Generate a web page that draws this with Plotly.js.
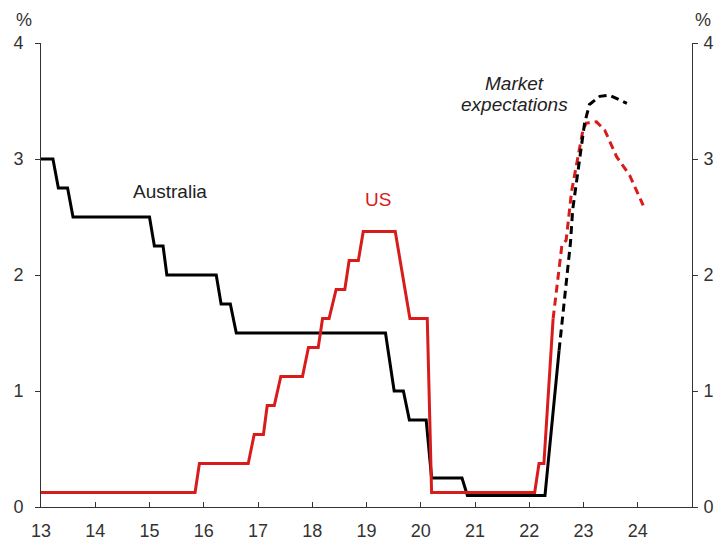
<!DOCTYPE html>
<html>
<head>
<meta charset="utf-8">
<script src="https://cdn.plot.ly/plotly-3.0.1.min.js"></script>
<style>
  html, body { margin: 0; padding: 0; background: #fff; }
  #chart { width: 725px; height: 543px; }
</style>
</head>
<body>
<div id="chart"></div>
<script>
// Policy rates, % (x in years, 13 = 2013)
const ausX = [13.0, 13.22, 13.32, 13.49, 13.59, 15.0, 15.09, 15.25, 15.32, 16.23, 16.32, 16.49, 16.6,
              19.35, 19.51, 19.68, 19.79, 20.1, 20.2, 20.76, 20.86, 22.29, 22.55];
const ausY = [3.0, 3.0, 2.75, 2.75, 2.5, 2.5, 2.25, 2.25, 2.0, 2.0, 1.75, 1.75, 1.5,
              1.5, 1.0, 1.0, 0.75, 0.75, 0.25, 0.25, 0.1, 0.1, 1.35];

const usX = [13.0, 15.84, 15.92, 16.82, 16.93, 17.1, 17.17, 17.3, 17.42, 17.82, 17.93, 18.11, 18.19,
             18.31, 18.44, 18.6, 18.68, 18.85, 18.94, 19.53, 19.8, 20.12, 20.2, 22.1, 22.18, 22.27, 22.44];
const usY = [0.125, 0.125, 0.375, 0.375, 0.625, 0.625, 0.875, 0.875, 1.125, 1.125, 1.375, 1.375, 1.625,
             1.625, 1.875, 1.875, 2.125, 2.125, 2.375, 2.375, 1.625, 1.625, 0.125, 0.125, 0.375, 0.375, 1.625];

// Market expectations
const ausMktX = [22.55, 22.76, 22.80, 22.93, 23.02, 23.11, 23.30, 23.48, 23.80];
const ausMktY = [1.35, 2.28, 2.56, 3.02, 3.31, 3.47, 3.54, 3.55, 3.48];

const usMktX = [22.44, 22.6, 22.68, 22.78, 22.99, 23.05, 23.24, 23.39, 23.61, 23.85, 24.10];
const usMktY = [1.625, 2.25, 2.3, 2.72, 3.25, 3.31, 3.32, 3.25, 3.02, 2.86, 2.60];

const xTickVals = [13, 14, 15, 16, 17, 18, 19, 20, 21, 22, 23, 24, 25];
const xTickText = ['13', '14', '15', '16', '17', '18', '19', '20', '21', '22', '23', '24', ''];
const yTickVals = [0, 1, 2, 3, 4];

const RED = '#D81C1C';
const BLACK = '#000000';
const AXIS = '#333333';
const FONT = 'Arial, "Liberation Sans", sans-serif';

const traces = [
  { x: ausX, y: ausY, mode: 'lines', line: { color: BLACK, width: 3 }, hoverinfo: 'skip' },
  { x: usX, y: usY, mode: 'lines', line: { color: RED, width: 3 }, hoverinfo: 'skip' },
  { x: usMktX, y: usMktY, mode: 'lines', line: { color: RED, width: 3, dash: '8px,5px' }, hoverinfo: 'skip' },
  { x: ausMktX, y: ausMktY, mode: 'lines', line: { color: BLACK, width: 3, dash: '8px,5px' }, hoverinfo: 'skip' },
  // keeps the right-hand axis in place
  { x: [13], y: [0], yaxis: 'y2', mode: 'markers', marker: { opacity: 0 }, hoverinfo: 'skip' }
];

const yCommon = {
  range: [0, 4],
  tickvals: yTickVals,
  ticks: 'outside',
  ticklen: 5,
  tickwidth: 1,
  tickcolor: AXIS,
  showline: true,
  linecolor: AXIS,
  linewidth: 1,
  showgrid: false,
  zeroline: false,
  fixedrange: true,
  tickfont: { family: FONT, size: 18, color: '#333' }
};

const layout = {
  width: 725,
  height: 543,
  margin: { l: 41, r: 33, t: 43, b: 36, pad: 0 },
  showlegend: false,
  paper_bgcolor: '#ffffff',
  plot_bgcolor: '#ffffff',
  font: { family: FONT, size: 18, color: '#333' },
  xaxis: {
    range: [13, 25],
    tickvals: xTickVals,
    ticktext: xTickText,
    ticks: 'inside',
    ticklen: 5,
    tickwidth: 1,
    tickcolor: AXIS,
    showline: true,
    linecolor: AXIS,
    linewidth: 1,
    showgrid: false,
    zeroline: false,
    fixedrange: true,
    ticklabelstandoff: 7,
    tickfont: { family: FONT, size: 18, color: '#333' }
  },
  yaxis: Object.assign({}, yCommon, { side: 'left', ticklabelstandoff: 8 }),
  yaxis2: Object.assign({}, yCommon, { side: 'right', overlaying: 'y', ticklabelstandoff: 2 }),
  annotations: [
    { xref: 'paper', yref: 'paper', x: 0, y: 1, xshift: -17, yshift: 11, xanchor: 'center', yanchor: 'bottom',
      text: '%', showarrow: false, font: { family: FONT, size: 18, color: '#333' } },
    { xref: 'paper', yref: 'paper', x: 1, y: 1, xshift: 11, yshift: 11, xanchor: 'center', yanchor: 'bottom',
      text: '%', showarrow: false, font: { family: FONT, size: 18, color: '#333' } },
    { x: 15.37, y: 2.72, text: 'Australia', showarrow: false, xanchor: 'center', yanchor: 'middle',
      font: { family: FONT, size: 19, color: '#222' } },
    { x: 19.22, y: 2.655, text: 'US', showarrow: false, xanchor: 'center', yanchor: 'middle',
      font: { family: FONT, size: 19, color: RED } },
    { x: 21.73, y: 3.65, text: '<i>Market</i>', showarrow: false, xanchor: 'center', yanchor: 'middle',
      font: { family: FONT, size: 19, color: '#222' } },
    { x: 21.73, y: 3.47, text: '<i>expectations</i>', showarrow: false, xanchor: 'center', yanchor: 'middle',
      font: { family: FONT, size: 19, color: '#222' } }
  ]
};

Plotly.newPlot('chart', traces, layout, { staticPlot: true, displayModeBar: false });
</script>
</body>
</html>
